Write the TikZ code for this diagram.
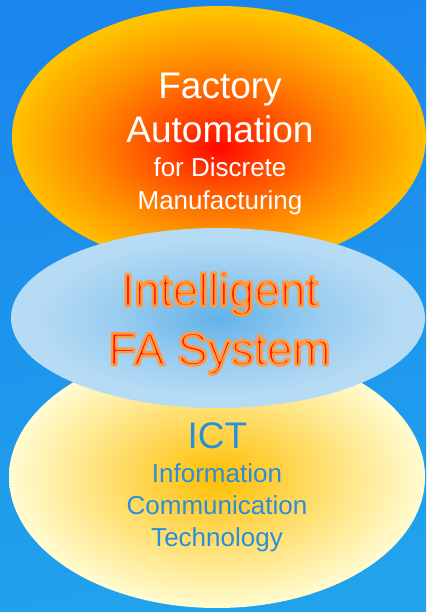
\documentclass[tikz,border=0pt]{standalone}
\usepackage{fontspec}
\setmainfont{Liberation Sans}
\definecolor{bgtop}{HTML}{1A86EE}
\definecolor{bgbot}{HTML}{21A3EC}
\definecolor{tA}{HTML}{FF0800}
\definecolor{tB}{HTML}{FF4A00}
\definecolor{tC}{HTML}{FF8C00}
\definecolor{tD}{HTML}{FFC200}
\definecolor{mA}{HTML}{62B2E8}
\definecolor{mB}{HTML}{98CCF0}
\definecolor{mC}{HTML}{B6DBF4}
\definecolor{bA}{HTML}{FFBE00}
\definecolor{bB}{HTML}{FFDA60}
\definecolor{bC}{HTML}{FFFCD2}
\definecolor{ictblue}{HTML}{2A8ED8}
\definecolor{fared}{HTML}{FF1400}
\definecolor{faglow}{HTML}{FF9A40}
\pgfdeclareradialshading{topsh}{\pgfpoint{0bp}{-2bp}}{color(0bp)=(tA); color(7bp)=(tB); color(16bp)=(tC); color(25bp)=(tD); color(50bp)=(tD)}
\pgfdeclareradialshading{midsh}{\pgfpoint{0bp}{0bp}}{color(0bp)=(mA); color(12bp)=(mB); color(22bp)=(mC); color(25bp)=(mC); color(50bp)=(mC)}
\pgfdeclareradialshading{botsh}{\pgfpoint{0bp}{0bp}}{color(0bp)=(bA); color(11bp)=(bB); color(25bp)=(bC); color(50bp)=(bC)}
\newcommand{\fatxt}[1]{{\color{fared}\special{pdf:literal direct 2 Tr 2.6 w 1 j 1 0.604 0.251 RG}#1\special{pdf:literal direct 0 Tr 1 w 0 j}}}
\tikzset{
  bigwhite/.style={anchor=base, text=white, font=\fontsize{37}{37}\selectfont, inner sep=0pt},
  smallwhite/.style={anchor=base, text=white, font=\fontsize{26}{26}\selectfont, inner sep=0pt},
  fatext/.style={anchor=base, font=\fontsize{46}{46}\selectfont, inner sep=0pt},
  bigblue/.style={anchor=base, text=ictblue, font=\fontsize{37}{37}\selectfont, inner sep=0pt},
  smallblue/.style={anchor=base, text=ictblue, font=\fontsize{26}{26}\selectfont, inner sep=0pt}
}
\begin{document}
\begin{tikzpicture}[x=1pt,y=1pt]
\useasboundingbox (0,0) rectangle (426,-612);
\shade[top color=bgtop, bottom color=bgbot, shading angle=10] (0,0) rectangle (426,-612);
% bottom ellipse
\shade[shading=botsh] (217,-477) ellipse [x radius=208, y radius=131];
% top ellipse
\shade[shading=topsh] (219,-137) ellipse [x radius=207, y radius=131];
% middle ellipse
\shade[shading=midsh] (218,-318) ellipse [x radius=207, y radius=90];
% texts
\node[bigwhite] (l1) at (220,-99) {Factory};
\node[bigwhite] (l2) at (220,-143) {Automation};
\node[smallwhite] (l3) at (220,-177) {for Discrete};
\node[smallwhite] (l4) at (220,-209) {Manufacturing};
\node[fatext] (m1) at (220,-306) {\fatxt{Intelligent}};
\node[fatext] (m2) at (219.5,-365) {\fatxt{FA System}};
\node[bigblue] (b1) at (217.5,-448) {ICT};
\node[smallblue] (b2) at (217,-482) {Information};
\node[smallblue] (b3) at (217,-514) {Communication};
\node[smallblue] (b4) at (217,-546) {Technology};
\end{tikzpicture}
\end{document}
